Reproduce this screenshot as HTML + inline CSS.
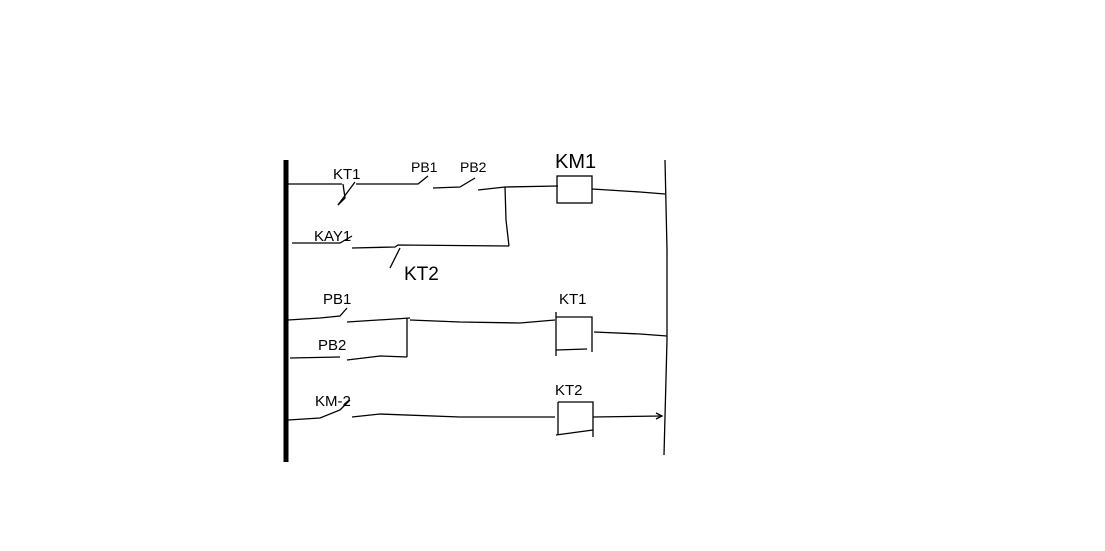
<!DOCTYPE html>
<html><head><meta charset="utf-8"><style>
html,body{margin:0;padding:0;background:#fff;width:1105px;height:551px;overflow:hidden}
svg text{font-family:"Liberation Sans",sans-serif;fill:#000}
</style></head><body>
<svg width="1105" height="551" viewBox="0 0 1105 551" xmlns="http://www.w3.org/2000/svg">
<g fill="none" stroke="#000" stroke-width="1.3">
<line x1="286" y1="160" x2="286" y2="462" stroke-width="5"/>
<polyline points="665,160 667,250 667,340 664,455"/>
<!-- rung1 -->
<polyline points="288,184 342,184"/>
<polyline points="343,184 345,198 338,205"/>
<polyline points="338,205 355,182"/>
<polyline points="356,184 418,184 428,176"/>
<polyline points="433,188 460,187 475,178"/>
<polyline points="478,190 505,187 558,186"/>
<rect x="557" y="176" width="35" height="27"/>
<polyline points="592,189 640,192 665,194"/>
<polyline points="505,187 506,220 509,246"/>
<!-- rung2 -->
<polyline points="292,243 340,243 352,236"/>
<polyline points="352,248 395,247 398,245 509,246"/>
<polyline points="390,268 400,248"/>
<!-- rung3 -->
<polyline points="288,320 320,318 340,316 347,308"/>
<polyline points="347,322 410,318"/>
<polyline points="407,318 407,357"/>
<polyline points="290,358 340,357"/>
<polyline points="347,360 380,356 407,357"/>
<polyline points="410,320 460,322 520,323 555,320"/>
<polyline points="556,317 592,317 592,352"/>
<polyline points="556,312 556,356"/>
<polyline points="556,350 587,349"/>
<polyline points="594,332 640,334 667,336"/>
<!-- rung4 -->
<polyline points="288,420 320,418 340,410 350,400"/>
<polyline points="352,417 380,414 460,417 555,417"/>
<polyline points="558,402 593,402 593,437"/>
<polyline points="558,402 558,435"/>
<polyline points="556,435 593,430"/>
<polyline points="593,417 662,416"/>
<polyline points="656,413 662,416 656,419"/>
</g>
<g font-size="15">
<text x="333" y="179">KT1</text>
<text x="411" y="172" font-size="14">PB1</text>
<text x="460" y="172" font-size="14">PB2</text>
<text x="555" y="168" font-size="20">KM1</text>
<text x="314" y="241">KAY1</text>
<text x="404" y="280" font-size="19">KT2</text>
<text x="323" y="304">PB1</text>
<text x="318" y="350">PB2</text>
<text x="559" y="304">KT1</text>
<text x="315" y="406">KM-2</text>
<text x="555" y="395">KT2</text>
</g>
</svg>
</body></html>
